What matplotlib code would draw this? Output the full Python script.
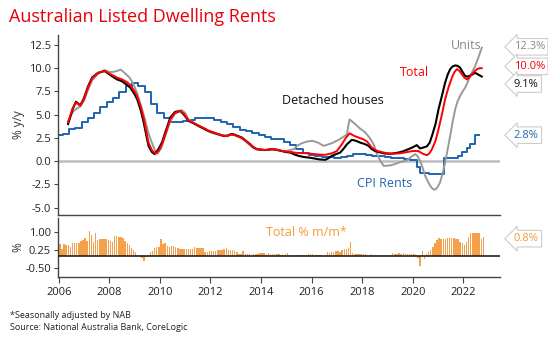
import matplotlib
matplotlib.use("Agg")
import matplotlib.pyplot as plt
import numpy as np

plt.rcParams['font.family'] = ['Open Sans', 'DejaVu Sans']

# ---------------- data ----------------
houses_t = [2006.37, 2006.55, 2006.68, 2006.85, 2007.0, 2007.15, 2007.32, 2007.55, 2007.81, 2008.1, 2008.3,
            2008.5, 2008.7, 2008.83, 2009.0, 2009.1, 2009.25, 2009.36, 2009.47, 2009.55, 2009.68, 2009.79,
            2009.92, 2010.08, 2010.25, 2010.41, 2010.6, 2010.81, 2010.95, 2011.13, 2011.35, 2011.53, 2011.75,
            2011.92, 2012.1, 2012.32, 2012.5, 2012.65, 2012.8, 2012.91, 2013.05, 2013.24, 2013.4, 2013.57,
            2013.7, 2013.84, 2014.0, 2014.17, 2014.43, 2014.6, 2014.76, 2014.95, 2015.16, 2015.3, 2015.48,
            2015.7, 2015.88, 2016.1, 2016.3, 2016.54, 2016.65, 2016.8, 2017.0, 2017.13, 2017.28, 2017.4,
            2017.59, 2017.75, 2017.92, 2018.1, 2018.25, 2018.38, 2018.51, 2018.7, 2018.91, 2019.1, 2019.25,
            2019.43, 2019.6, 2019.83, 2020.0, 2020.16, 2020.29, 2020.45, 2020.56, 2020.67, 2020.76, 2020.9,
            2021.02, 2021.15, 2021.28, 2021.38, 2021.48, 2021.58, 2021.68, 2021.78, 2021.87, 2021.97, 2022.07,
            2022.17, 2022.27, 2022.37, 2022.47, 2022.6, 2022.73]
houses_v = [4.0, 5.6, 6.4, 6.0, 6.8, 8.0, 9.0, 9.5, 9.7, 9.15, 8.8,
            8.6, 8.2, 7.9, 7.2, 6.67, 5.4, 4.15, 2.7, 1.65, 1.0, 0.76,
            1.2, 2.0, 3.4, 4.7, 5.3, 5.4, 5.0, 4.34, 4.05, 3.8, 3.5,
            3.26, 3.1, 2.9, 2.75, 2.73, 2.9, 2.9, 2.75, 2.55, 2.2, 1.83,
            1.5, 1.3, 1.25, 1.2, 1.3, 1.25, 1.15, 1.0, 0.93, 0.75, 0.58,
            0.45, 0.4, 0.3, 0.2, 0.15, 0.3, 0.58, 0.8, 0.93, 1.4, 1.83,
            2.3, 2.2, 2.0, 1.85, 1.65, 1.3, 1.1, 0.95, 0.83, 0.8, 0.85,
            0.93, 1.05, 1.3, 1.5, 1.73, 1.37, 1.5, 1.6, 2.0, 2.73, 4.0,
            5.6, 7.0, 8.45, 9.3, 9.9, 10.2, 10.3, 10.25, 10.06, 9.6, 9.17,
            9.1, 9.2, 9.35, 9.5, 9.3, 9.1]

total_t = [2006.37, 2006.55, 2006.68, 2006.85, 2007.0, 2007.15, 2007.32, 2007.55, 2007.81, 2008.1, 2008.3,
           2008.5, 2008.7, 2008.83, 2009.0, 2009.1, 2009.25, 2009.36, 2009.47, 2009.55, 2009.68, 2009.82,
           2009.95, 2010.08, 2010.25, 2010.41, 2010.6, 2010.81, 2010.95, 2011.13, 2011.35, 2011.53, 2011.75,
           2011.92, 2012.1, 2012.32, 2012.5, 2012.65, 2012.8, 2012.91, 2013.05, 2013.24, 2013.4, 2013.57,
           2013.7, 2013.84, 2014.0, 2014.17, 2014.43, 2014.6, 2014.76, 2014.95, 2015.16, 2015.4, 2015.7,
           2016.0, 2016.3, 2016.54, 2016.8, 2017.0, 2017.2, 2017.35, 2017.5, 2017.7, 2018.04, 2018.2,
           2018.38, 2018.6, 2018.91, 2019.2, 2019.5, 2019.8, 2020.0, 2020.22, 2020.4, 2020.56, 2020.66,
           2020.76, 2020.9, 2021.02, 2021.15, 2021.28, 2021.42, 2021.55, 2021.65, 2021.75, 2021.85, 2021.94,
           2022.04, 2022.14, 2022.24, 2022.34, 2022.44, 2022.54, 2022.64, 2022.73]
total_v = [4.2, 5.7, 6.3, 6.0, 6.7, 7.9, 8.9, 9.5, 9.7, 9.3, 9.0,
           8.8, 8.5, 8.2, 7.5, 7.0, 5.8, 4.6, 3.1, 2.0, 1.2, 0.8,
           1.1, 1.8, 3.2, 4.5, 5.2, 5.4, 5.1, 4.4, 4.1, 3.85, 3.55,
           3.3, 3.1, 2.9, 2.75, 2.7, 2.85, 2.85, 2.7, 2.5, 2.2, 1.8,
           1.5, 1.3, 1.25, 1.2, 1.3, 1.25, 1.15, 1.05, 1.0, 0.9, 0.87,
           0.8, 0.72, 0.69, 0.85, 1.1, 1.83, 2.5, 3.0, 2.7, 2.37, 2.1,
           1.47, 1.1, 0.9, 0.8, 0.85, 1.0, 1.1, 1.1, 0.8, 0.65, 0.85,
           1.3, 2.2, 3.45, 5.0, 6.67, 8.0, 9.0, 9.6, 9.9, 9.7, 9.35,
           9.0, 8.8, 9.0, 9.35, 9.65, 9.9, 10.0, 10.0]

units_t = [2006.37, 2006.55, 2006.68, 2006.85, 2007.0, 2007.15, 2007.32, 2007.55, 2007.81, 2008.0, 2008.15,
           2008.3, 2008.45, 2008.6, 2008.8, 2008.95, 2009.1, 2009.25, 2009.4, 2009.55, 2009.68, 2009.8,
           2009.9, 2010.05, 2010.25, 2010.41, 2010.6, 2010.85, 2011.0, 2011.13, 2011.35, 2011.53, 2011.75,
           2011.92, 2012.1, 2012.32, 2012.5, 2012.65, 2012.8, 2012.91, 2013.05, 2013.24, 2013.4, 2013.57,
           2013.7, 2013.84, 2014.0, 2014.17, 2014.43, 2014.6, 2014.76, 2015.0, 2015.29, 2015.45, 2015.62,
           2015.8, 2016.02, 2016.25, 2016.48, 2016.65, 2016.8, 2017.0, 2017.13, 2017.3, 2017.4, 2017.45,
           2017.5, 2017.72, 2017.92, 2018.12, 2018.3, 2018.45, 2018.55, 2018.65, 2018.75, 2018.85, 2019.1,
           2019.3, 2019.5, 2019.74, 2019.95, 2020.1, 2020.2, 2020.29, 2020.39, 2020.49, 2020.6, 2020.69,
           2020.78, 2020.86, 2020.95, 2021.08, 2021.18, 2021.28, 2021.38, 2021.48, 2021.58, 2021.68, 2021.78,
           2021.87, 2021.97, 2022.07, 2022.17, 2022.27, 2022.37, 2022.47, 2022.6, 2022.73]
units_v = [4.3, 5.3, 5.6, 5.9, 6.5, 7.6, 8.7, 9.4, 9.8, 9.6, 9.6,
           9.7, 9.85, 9.5, 9.0, 8.3, 7.3, 6.0, 4.6, 3.0, 2.0, 1.2,
           0.8, 1.4, 3.0, 4.3, 5.1, 5.5, 5.2, 4.5, 4.1, 3.75, 3.45,
           3.2, 3.0, 2.85, 2.7, 2.7, 2.85, 2.85, 2.7, 2.45, 2.1, 1.7,
           1.4, 1.25, 1.2, 1.2, 1.25, 1.2, 1.1, 1.1, 1.3, 1.7, 1.94,
           2.1, 2.2, 2.0, 1.65, 1.8, 1.94, 2.2, 2.4, 2.7, 2.9, 3.8,
           4.5, 4.0, 3.5, 3.1, 2.5, 1.83, 1.0, 0.4, -0.1, -0.5, -0.45,
           -0.3, -0.1, 0.05, 0.5, 0.76, 0.5, 0.05, -0.7, -1.57, -2.2, -2.65,
           -2.95, -3.07, -2.9, -2.29, -1.3, -0.15, 1.3, 2.73, 4.3, 5.6, 6.5,
           7.0, 7.5, 7.9, 8.5, 9.2, 9.7, 10.25, 11.2, 12.2]

cpi_t = [2006.0, 2006.15, 2006.4, 2006.65, 2006.9, 2007.15, 2007.4, 2007.65, 2007.9, 2008.15, 2008.4,
         2008.65, 2008.9, 2009.15, 2009.4, 2009.65, 2009.9, 2010.15, 2010.4, 2010.65, 2010.9, 2011.15,
         2011.4, 2011.65, 2011.9, 2012.15, 2012.4, 2012.65, 2012.9, 2013.15, 2013.4, 2013.65, 2013.9,
         2014.15, 2014.4, 2014.65, 2014.9, 2015.15, 2015.4, 2015.65, 2015.9, 2016.15, 2016.4, 2016.65,
         2016.9, 2017.15, 2017.4, 2017.65, 2017.9, 2018.15, 2018.4, 2018.65, 2018.9, 2019.15, 2019.4,
         2019.65, 2019.9, 2020.16, 2020.3, 2020.65, 2020.9, 2021.22, 2021.5, 2021.8, 2021.94, 2022.14,
         2022.27, 2022.47, 2022.62]
cpi_v = [2.8, 2.9, 3.45, 3.6, 4.2, 4.7, 5.2, 5.8, 6.4, 6.8, 7.4,
         8.1, 8.4, 8.1, 7.4, 6.1, 5.2, 4.6, 4.25, 4.2, 4.3, 4.45,
         4.7, 4.7, 4.6, 4.45, 4.2, 3.95, 3.65, 3.4, 3.2, 3.05, 2.85,
         2.6, 2.4, 2.35, 2.1, 1.75, 1.3, 0.9, 0.7, 0.6, 0.5, 0.45,
         0.4, 0.5, 0.6, 0.75, 0.75, 0.65, 0.6, 0.55, 0.5, 0.35, 0.3,
         0.2, 0.1, -0.6, -1.3, -1.35, -1.35, 0.35, 0.35, 0.6, 0.95, 1.4,
         1.85, 2.8, 2.8]

mm_2006 = [0.48, 0.30, 0.50, 0.46, 0.44, 0.36, 0.55, 0.54, 0.52, 0.55, 0.62, 0.68]
mm_2007 = [0.75, 0.61, 1.05, 0.86, 0.60, 0.96, 0.68, 0.72, 0.72, 0.72, 0.70, 0.68]
mm_2008 = [0.62, 0.58, 0.85, 0.83, 0.80, 0.78, 0.76, 0.64, 0.55, 0.47, 0.33, 0.25]
mm_2009 = [0.17, 0.03, -0.05, -0.08, -0.20, -0.05, 0.06, 0.15, 0.22, 0.33, 0.36, 0.38]
mm_2010 = [0.70, 0.50, 0.54, 0.40, 0.36, 0.43, 0.43, 0.38, 0.33, 0.30, 0.30, 0.30]
mm_2011 = [0.30, 0.29, 0.30, 0.28, 0.36, 0.34, 0.35, 0.35, 0.35, 0.17, 0.18, 0.19]
mm_2012 = [0.19, 0.20, 0.22, 0.25, 0.26, 0.26, 0.27, 0.33, 0.24, 0.25, 0.24, 0.22]
mm_2013 = [0.15, 0.10, 0.08, 0.22, 0.08, 0.07, 0.08, 0.06, 0.08, 0.07, 0.10, 0.11]
mm_2014 = [0.11, 0.12, 0.10, 0.13, 0.08, 0.09, 0.08, 0.07, 0.08, 0.05, 0.06, 0.07]
mm_2015 = [0.11, 0.05, 0.04, 0.05, 0.03, 0.04, 0.05, 0.06, 0.04, 0.03, 0.10, 0.10]
mm_2016 = [0.10, 0.04, 0.03, 0.03, 0.02, -0.02, 0.02, 0.15, 0.14, 0.16, 0.18, 0.20]
mm_2017 = [0.22, 0.18, 0.25, 0.28, 0.28, 0.32, 0.60, 0.12, 0.10, 0.08, 0.08, 0.09]
mm_2018 = [0.08, 0.07, 0.06, 0.05, 0.07, 0.04, 0.03, 0.02, 0.01, 0.02, 0.01, 0.03]
mm_2019 = [0.01, 0.03, 0.14, 0.08, 0.10, 0.11, 0.10, 0.12, 0.10, 0.09, 0.10, 0.08]
mm_2020 = [0.07, 0.06, -0.10, -0.42, 0.20, -0.12, 0.07, 0.15, 0.25, 0.39, 0.53, 0.67]
mm_2021 = [0.76, 0.71, 0.72, 0.70, 0.74, 0.76, 0.75, 0.74, 0.72, 0.70, 0.60, 0.53]
mm_2022 = [0.46, 0.60, 0.80, 0.95, 0.94, 0.94, 0.95, 0.94, 0.72, 0.78]

x_ticks = [2006, 2008, 2010, 2012, 2014, 2016, 2018, 2020, 2022]
top_yticks = [-5.0, -2.5, 0.0, 2.5, 5.0, 7.5, 10.0, 12.5]
bot_yticks = [-0.50, 0.25, 1.00]

end_labels = [("12.3%", 12.3, '#888888'), ("10.0%", 10.2, '#e8000b'), ("9.1%", 8.3, '#111111'),
              ("2.8%", 2.8, '#1f64b0')]

# ---------------- figure ----------------
W, H = 548, 338
fig = plt.figure(figsize=(W / 100, H / 100), dpi=100)

def rect(l, t, r, b):
    return [l / W, 1 - b / H, (r - l) / W, (b - t) / H]

ax = fig.add_axes(rect(58, 35, 500, 215))
ax2 = fig.add_axes(rect(58, 218, 500, 277), sharex=ax)

RED = '#ff0000'
BLUE = '#1f64b0'
GRAY = '#999999'
ORANGE = '#f5a04a'

ax.axhline(0, color='#bdbdbd', lw=1.8, zorder=1)
ax.step(cpi_t, cpi_v, where='post', color=BLUE, lw=1.4, zorder=2)
ax.plot(units_t, units_v, color=GRAY, lw=1.4, zorder=3)
ax.plot(houses_t, houses_v, color='black', lw=1.5, zorder=4)
ax.plot(total_t, total_v, color=RED, lw=1.4, zorder=5)

ax.set_xlim(2005.97, 2023.45)
ax.set_ylim(-5.78, 13.57)
ax.set_yticks(top_yticks)
ax.set_yticklabels([f"{v:.1f}" for v in top_yticks])
for s in ['top', 'right']:
    ax.spines[s].set_visible(False)
for s in ['left', 'bottom']:
    ax.spines[s].set_color('#444444')
    ax.spines[s].set_linewidth(1.0)
ax.tick_params(axis='y', labelsize=8, length=3, color='#444444', pad=2, labelcolor='#222222')
ax.tick_params(axis='x', bottom=False, labelbottom=False)
ax.set_ylabel('% y/y', fontsize=8.5, color='#333333', labelpad=2)

ax.text(2022.11, 12.45, 'Units', color='#888888', fontsize=9, ha='center', va='center')
ax.text(2020.05, 9.5, 'Total', color=RED, fontsize=9, ha='center', va='center')
ax.text(2016.86, 6.5, 'Detached houses', color='#111111', fontsize=9, ha='center', va='center')
ax.text(2018.9, -2.4, 'CPI Rents', color=BLUE, fontsize=9, ha='center', va='center')

for txt, yv, c in end_labels:
    ax.annotate(txt, xy=(1.0, yv), xycoords=('axes fraction', 'data'), xytext=(10, 0),
                textcoords='offset points', ha='left', va='center', fontsize=8, color=c,
                annotation_clip=False,
                bbox=dict(boxstyle='larrow,pad=0.25', fc='white', ec='#cccccc', lw=0.8))

# bottom panel
mm = mm_2006 + mm_2007 + mm_2008 + mm_2009 + mm_2010 + mm_2011 + mm_2012 + mm_2013 + mm_2014 + \
     mm_2015 + mm_2016 + mm_2017 + mm_2018 + mm_2019 + mm_2020 + mm_2021 + mm_2022
bar_x = [2006 + (i + 0.5) / 12 for i in range(len(mm))]
ax2.bar(bar_x, mm, width=1 / 12 * 0.7, color=ORANGE, linewidth=0, antialiased=False, zorder=2)
ax2.axhline(0, color='#222222', lw=1.2, zorder=3)
ax2.set_ylim(-0.875, 1.58)
ax2.set_yticks(bot_yticks)
ax2.set_yticklabels([f"{v:.2f}" for v in bot_yticks])
ax2.set_xticks(x_ticks)
ax2.set_xticklabels([str(x) for x in x_ticks])
for s in ['top', 'right']:
    ax2.spines[s].set_visible(False)
for s in ['left', 'bottom']:
    ax2.spines[s].set_color('#444444')
    ax2.spines[s].set_linewidth(1.0)
ax2.tick_params(axis='y', labelsize=8, length=3, color='#444444', pad=2, labelcolor='#222222')
ax2.tick_params(axis='x', labelsize=8, length=4, color='#444444', pad=3, labelcolor='#222222')
ax2.set_ylabel('%', fontsize=8.5, color='#333333', labelpad=2)
ax2.text(2015.8, 0.97, 'Total % m/m*', color='#f59a3a', fontsize=9, ha='center', va='center')
ax2.annotate('0.8%', xy=(1.0, 0.72), xycoords=('axes fraction', 'data'), xytext=(10, 0),
             textcoords='offset points', ha='left', va='center', fontsize=8, color='#f59a3a',
             annotation_clip=False,
             bbox=dict(boxstyle='larrow,pad=0.25', fc='white', ec='#cccccc', lw=0.8))

ax.yaxis.set_label_coords(-0.075, 0.5)
ax2.yaxis.set_label_coords(-0.075, 0.5)

fig.text(9 / W, 1 - 17 / H, 'Australian Listed Dwelling Rents', color='#e8000b', fontsize=13,
         ha='left', va='center')
fig.text(10 / W, 1 - 315 / H, '*Seasonally adjusted by NAB', fontsize=6.5, color='#222222',
         ha='left', va='center')
fig.text(10 / W, 1 - 327 / H, 'Source: National Australia Bank, CoreLogic', fontsize=6.5,
         color='#222222', ha='left', va='center')

fig.savefig('out.png', dpi=100)
